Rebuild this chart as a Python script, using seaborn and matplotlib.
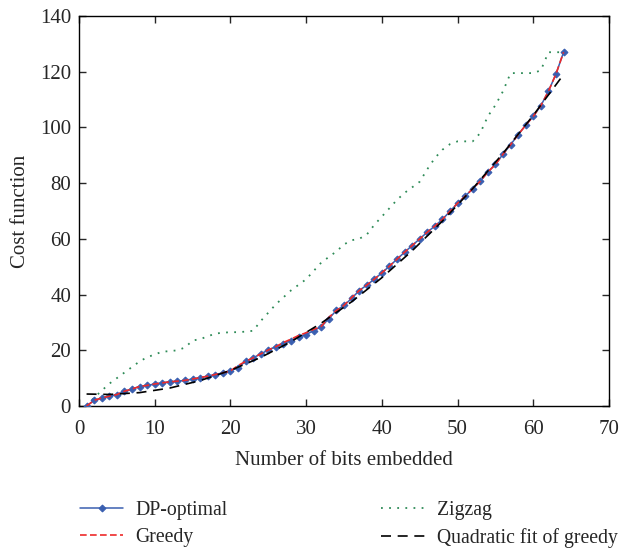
import numpy as np
import pandas as pd
import matplotlib
matplotlib.use("Agg")
import matplotlib.pyplot as plt
import seaborn as sns

bits = list(range(1, 65))
dp_optimal = [0, 2, 2.9, 3.5, 4.1, 5.3, 6.1, 7.0, 7.4, 7.9, 8.3, 8.7, 8.9, 9.2, 9.7, 10.2,
              10.7, 11.3, 11.9, 12.6, 13.8, 16.0, 17.3, 18.7, 20.1, 21.3, 22.4, 23.5, 24.7, 25.6,
              27.1, 28.4, 31.4, 34.3, 36.1, 38.6, 41.4, 43.4, 45.5, 47.8, 50.2, 52.7, 55.2, 57.6,
              60.0, 62.4, 64.6, 67.0, 69.9, 72.8, 75.3, 78.0, 80.7, 84.0, 86.7, 90.4, 93.8, 97.4,
              100.8, 104.0, 107.8, 113.0, 119.2, 127.0]
greedy = [0, 2, 2.9, 3.5, 4.1, 5.3, 6.1, 7.0, 7.4, 7.9, 8.3, 8.7, 8.9, 9.2, 9.7, 10.2,
          10.7, 11.3, 11.9, 12.6, 14.5, 16.0, 17.3, 18.7, 20.1, 21.3, 22.8, 24.0, 25.3, 26.3,
          27.5, 28.6, 31.8, 34.3, 36.1, 38.9, 41.4, 43.4, 45.5, 47.8, 50.2, 52.7, 55.2, 57.6,
          60.0, 62.4, 64.6, 67.0, 69.9, 72.8, 75.3, 78.0, 80.7, 84.0, 86.7, 90.4, 93.8, 97.4,
          100.8, 104.0, 107.8, 113.0, 119.2, 127.0]
zigzag = [0, 3, 5.5, 8, 10, 12, 14, 16, 17.5, 18.5, 19.5, 19.7, 20, 21, 23.5, 24,
          25, 26, 26.3, 26.5, 26.5, 26.7, 27, 30.5, 33.5, 36.5, 39, 41.5, 43.5, 45.5,
          48.5, 51.5, 53.5, 55.5, 58, 59.5, 60, 61.5, 65, 68, 71, 74, 76.5, 78.5,
          80.5, 85, 89, 92, 94, 95, 95, 95, 98, 104, 108, 113, 119.5, 119.5,
          119.5, 119.5, 120.5, 127, 127, 127]
fit_x = [1, 4, 8, 12, 16, 20, 24, 28, 32, 36, 40, 44, 48, 52, 56, 60, 64]
fit_y = [4.3, 4.14, 4.8, 6.45, 9.11, 12.77, 17.43, 23.09, 29.75, 37.4, 46.06, 55.72,
         66.38, 78.04, 90.7, 104.36, 119.0]

x_ticks = [0, 10, 20, 30, 40, 50, 60, 70]
y_ticks = [0, 20, 40, 60, 80, 100, 120, 140]

sns.set_style("ticks")
plt.rcParams['font.family'] = ['Liberation Serif', 'DejaVu Serif']
plt.rcParams['xtick.direction'] = 'in'
plt.rcParams['ytick.direction'] = 'in'

fig = plt.figure(figsize=(6.22, 5.48), dpi=100)
ax = fig.add_axes([79/622, 1-406/548, (609-79)/622, (406-16)/548])

df_dp = pd.DataFrame({"x": bits, "y": dp_optimal})
df_gr = pd.DataFrame({"x": bits, "y": greedy})
df_zz = pd.DataFrame({"x": bits, "y": zigzag})
df_fit = pd.DataFrame({"x": fit_x, "y": fit_y})

blue = "#3a5fb0"
sns.lineplot(data=df_dp, x="x", y="y", ax=ax, color=blue, lw=1.1, marker="D",
             markersize=3.5, markeredgecolor=blue, label="DP-optimal", zorder=3)
sns.lineplot(data=df_gr, x="x", y="y", ax=ax, color="#ee2a2a", lw=1.2,
             label="Greedy", zorder=4)
ax.lines[-1].set_dashes((4, 2))
sns.lineplot(data=df_zz, x="x", y="y", ax=ax, color="#2e8b57", lw=1.3,
             label="Zigzag", zorder=2)
ax.lines[-1].set_dashes((1, 3.5))
sns.lineplot(data=df_fit, x="x", y="y", ax=ax, color="black", lw=1.2,
             label="Quadratic fit of greedy", zorder=5)
ax.lines[-1].set_dashes((6, 4))

ax.set_xlim(0, 70)
ax.set_ylim(0, 140)
ax.set_xticks(x_ticks)
ax.set_yticks(y_ticks)
ax.tick_params(axis='both', which='both', top=True, right=True, labelsize=15,
               length=5, width=1, direction='in')
ax.tick_params(axis='x', pad=10)
ax.tick_params(axis='y', pad=5.7)
for s in ax.spines.values():
    s.set_linewidth(1.0)
    s.set_color("black")
ax.set_xlabel("Number of bits embedded", fontsize=15, labelpad=9)
ax.set_ylabel("Cost function", fontsize=15, labelpad=7)

handles, labels = ax.get_legend_handles_labels()
ax.get_legend().remove()
fig.legend(handles, labels, ncol=2, loc="upper left", bbox_to_anchor=(80/622, 1-501/548),
           frameon=False, fontsize=14.2, handlelength=2.2, columnspacing=7.8,
           labelspacing=0.4, handletextpad=0.6, borderpad=0, borderaxespad=0)

fig.savefig("out.png", dpi=100)
